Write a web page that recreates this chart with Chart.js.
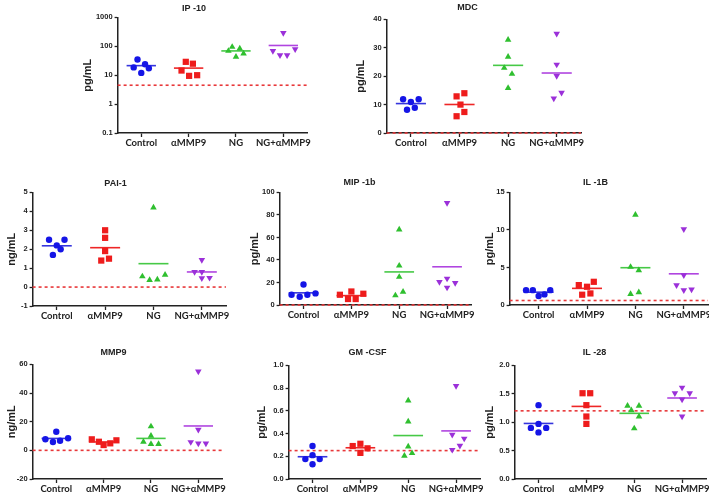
<!DOCTYPE html>
<html lang="en">
<head>
<meta charset="UTF-8" />
<title>Cytokine panels</title>
<script src="https://cdn.jsdelivr.net/npm/chart.js"></script>
<style>
  html, body { margin: 0; padding: 0; background: #fff; overflow: hidden; }
  body { width: 709px; height: 493px; position: relative; }
  .panel { position: absolute; }
</style>
</head>
<body>
<script>
const groups = ["Control", "αMMP9", "NG", "NG+αMMP9"];

// values per group (5 samples each)
const ip10 = [[35, 18.6, 24, 12, 17.5], [29, 25, 14.5, 9.5, 10], [69, 95, 83, 43, 56], [288, 69, 49, 49, 79]];
const mdc = [[11.9, 10.9, 11.9, 8.2, 8.9], [12.9, 14, 10, 7.4, 5.9], [32.8, 26.8, 22.9, 20.8, 15.8], [35, 24.1, 20.1, 14.2, 12.2]];
const pai1 = [[2.5, 2.5, 2.2, 2.0, 1.7], [3.0, 2.6, 1.9, 1.4, 1.5], [4.2, 0.56, 0.37, 0.4, 0.65], [1.43, 0.8, 0.8, 0.47, 0.49]];
const mip1b = [[18.2, 9.1, 7.3, 9.1, 10.3], [12, 9.1, 10, 5.3, 5.3], [66.9, 34.9, 24.9, 11.7, 8.5], [90.6, 23.5, 20.5, 19.6, 15.5]];
const il1b = [[1.98, 1.98, 1.19, 1.41, 1.98], [2.65, 2.43, 3.09, 1.37, 1.54], [12.0, 5.07, 4.63, 1.46, 1.68], [10.1, 3.97, 2.65, 1.98, 2.07]];
const mmp9 = [[13, 7.7, 5.8, 6.7, 8.4], [7.7, 6.0, 3.7, 4.9, 7.0], [16.7, 10.2, 6.0, 4.4, 4.4], [55.1, 14.4, 5.8, 4.9, 4.9]];
const gmcsf = [[0.29, 0.175, 0.21, 0.175, 0.13], [0.31, 0.29, 0.27, 0.23], [0.69, 0.505, 0.286, 0.204, 0.227], [0.82, 0.39, 0.356, 0.294, 0.257]];
const il28 = [[1.30, 0.97, 0.90, 0.90, 0.82], [1.51, 1.51, 1.30, 1.10, 0.97], [1.29, 1.29, 1.21, 1.10, 0.89], [1.61, 1.51, 1.51, 1.40, 1.10]];

// horizontal spread of the dots inside each group (category units)
const ip10Jitter = [[-0.08, -0.16, 0.08, 0, 0.16], [-0.06, 0.09, -0.15, 0.01, 0.18], [-0.16, -0.08, 0.08, 0, 0.16], [0, -0.22, -0.07, 0.08, 0.25]];
const mdcJitter = [[-0.16, 0, 0.16, -0.08, 0.08], [-0.06, 0.1, 0.02, 0.1, -0.06], [0, 0, -0.08, 0.08, 0], [0, 0, 0, 0.1, -0.06]];
const pai1Jitter = [[-0.16, 0.16, 0, 0.08, -0.08], [0, 0, 0, -0.08, 0.08], [0, -0.23, -0.08, 0.08, 0.24], [0, -0.15, 0, 0, 0.16]];
const mip1bJitter = [[0, -0.25, -0.08, 0.08, 0.25], [0, -0.24, 0.25, -0.07, 0.09], [0, 0, 0, 0.08, -0.08], [0, 0, -0.16, 0.17, 0]];
const il1bJitter = [[-0.26, -0.12, 0, 0.12, 0.24], [-0.17, 0, 0.14, -0.1, 0.07], [0, -0.1, 0.07, -0.1, 0.07], [0, 0, -0.15, 0, 0.16]];
const mmp9Jitter = [[0, -0.23, -0.07, 0.08, 0.25], [-0.25, -0.1, 0, 0.14, 0.27], [0, 0, -0.16, 0, 0.16], [0, 0, -0.16, 0, 0.16]];
const gmcsfJitter = [[0, -0.15, 0, 0.15, 0], [0, -0.16, 0.15, 0], [0, 0, 0, -0.08, 0.08], [0, -0.08, 0.17, 0.08, -0.08]];
const il28Jitter = [[0, 0, -0.16, 0.16, 0], [-0.08, 0.08, 0, 0, 0], [-0.14, 0.1, -0.06, 0.1, 0], [0, -0.15, 0.16, 0, 0]];

// y tick labels
const ip10Ticks = [0.1, 1, 10, 100, 1000];
const mdcTicks = [0, 10, 20, 30, 40];
const pai1Ticks = [-1, 0, 1, 2, 3, 4, 5];
const mip1bTicks = [0, 20, 40, 60, 80, 100];
const il1bTicks = [0, 5, 10, 15];
const mmp9Ticks = [-20, 0, 20, 40, 60];
const gmcsfTicks = [0, 0.2, 0.4, 0.6, 0.8, 1.0];
const il28Ticks = [0, 0.5, 1.0, 1.5, 2.0];

// detection limit (red dotted line)
const lods = { ip10: 4.5, mdc: 0, pai1: 0, mip1b: 0, il1b: 0.6, mmp9: 0, gmcsf: 0.25, il28: 1.2 };

const dotColors = ["#1515e6", "#ee1c1c", "#2fbf2f", "#9b30d9"];
const meanColors = ["#3535dd", "#ee2626", "#46c946", "#b045e0"];
const shapes = [
  { style: "circle", r: 3.2, rot: 0 },
  { style: "rect", r: 4.4, rot: 0 },
  { style: "triangle", r: 3.8, rot: 0 },
  { style: "triangle", r: 3.8, rot: 180 }
];

const panels = [
  { title: "IP -10", unit: "pg/mL", vals: ip10, jit: ip10Jitter, ticks: ip10Ticks, lod: lods.ip10, log: true, box: { l: 118, r: 307, t: 17, b: 133 }, ylabX: 88, titleY: 8 },
  { title: "MDC", unit: "pg/mL", vals: mdc, jit: mdcJitter, ticks: mdcTicks, lod: lods.mdc, box: { l: 387, r: 581, t: 19, b: 133 }, ylabX: 361, titleY: 7 },
  { title: "PAI-1", unit: "ng/mL", vals: pai1, jit: pai1Jitter, ticks: pai1Ticks, lod: lods.pai1, box: { l: 33, r: 226, t: 192, b: 306 }, ylabX: 12, titleY: 183 },
  { title: "MIP -1b", unit: "pg/mL", vals: mip1b, jit: mip1bJitter, ticks: mip1bTicks, lod: lods.mip1b, box: { l: 280, r: 471, t: 192, b: 305 }, ylabX: 255, titleY: 182 },
  { title: "IL -1B", unit: "pg/mL", vals: il1b, jit: il1bJitter, ticks: il1bTicks, lod: lods.il1b, box: { l: 510, r: 708, t: 192, b: 305 }, ylabX: 490, titleY: 182, xMin: 0.4 },
  { title: "MMP9", unit: "ng/mL", vals: mmp9, jit: mmp9Jitter, ticks: mmp9Ticks, lod: lods.mmp9, box: { l: 33, r: 222, t: 364, b: 479 }, ylabX: 12, titleY: 352 },
  { title: "GM -CSF", unit: "pg/mL", vals: gmcsf, jit: gmcsfJitter, ticks: gmcsfTicks, lod: lods.gmcsf, dec: 1, box: { l: 289, r: 480, t: 365, b: 479 }, ylabX: 262, titleY: 352 },
  { title: "IL -28", unit: "pg/mL", vals: il28, jit: il28Jitter, ticks: il28Ticks, lod: lods.il28, dec: 1, box: { l: 515, r: 706, t: 365, b: 479 }, ylabX: 490, titleY: 352 }
];

const ink = "#222";
const mean = arr => arr.reduce((a, b) => a + b, 0) / arr.length;

function makePanel(p) {
  const xMin = p.xMin || 0.5, xMax = 4.5;
  const left = p.ylabX - 6.6;
  const top = p.titleY - 5.4;
  const yw = p.box.l - left;
  const xh = 22, padR = 14;
  const w = Math.round(p.box.r - left + padR);
  const h = Math.round(p.box.b + xh - top);

  const div = document.createElement("div");
  div.className = "panel";
  div.style.left = left + "px";
  div.style.top = top + "px";
  const cv = document.createElement("canvas");
  cv.width = w; cv.height = h;
  cv.style.width = w + "px"; cv.style.height = h + "px";
  div.appendChild(cv);
  document.body.appendChild(div);

  const datasets = [];
  p.vals.forEach((vals, i) => {
    datasets.push({
      data: vals.map((v, k) => ({ x: i + 1 + p.jit[i][k], y: v })),
      pointStyle: shapes[i].style,
      rotation: shapes[i].rot,
      pointRadius: shapes[i].r,
      backgroundColor: dotColors[i],
      borderColor: dotColors[i],
      borderWidth: 0,
      showLine: false,
      clip: false
    });
  });
  p.vals.forEach((vals, i) => {
    const m = mean(vals);
    datasets.push({
      data: [{ x: i + 1 - 0.31, y: m }, { x: i + 1 + 0.31, y: m }],
      showLine: true, pointRadius: 0,
      borderColor: meanColors[i], borderWidth: 1.6, clip: false
    });
  });
  datasets.push({
    data: [{ x: xMin, y: p.lod }, { x: xMax, y: p.lod }],
    showLine: true, pointRadius: 0,
    borderColor: "#e8383a", borderWidth: 1.6, borderDash: [3, 3], clip: false
  });

  new Chart(cv.getContext("2d"), {
    type: "scatter",
    data: { datasets },
    options: {
      responsive: false,
      animation: false,
      events: [],
      layout: { padding: { left: 0, right: padR, top: 0, bottom: 0 } },
      plugins: {
        legend: { display: false },
        tooltip: { enabled: false },
        title: {
          display: true, text: p.title, color: ink,
          font: { family: "Liberation Sans", size: 9, weight: "bold", lineHeight: 1.2 },
          padding: { top: 0, bottom: p.box.t - top - 10.8 }
        }
      },
      scales: {
        x: {
          type: "linear", min: xMin, max: xMax,
          afterBuildTicks: s => { s.ticks = groups.map((g, i) => ({ value: i + 1 })); },
          afterFit: s => { s.height = xh; },
          ticks: {
            autoSkip: false, maxRotation: 0, padding: 0, color: ink,
            font: { family: "Lato", size: 9.5, weight: "bold" },
            callback: v => groups[Math.round(v) - 1]
          },
          grid: { drawOnChartArea: false, color: ink, tickLength: 4, tickWidth: 1.3 },
          border: { color: ink, width: 1.5 }
        },
        y: {
          type: p.log ? "logarithmic" : "linear",
          min: p.ticks[0], max: p.ticks[p.ticks.length - 1],
          afterBuildTicks: s => { s.ticks = p.ticks.map(v => ({ value: v })); },
          afterFit: s => { s.width = yw; },
          ticks: {
            padding: 2, color: ink,
            font: { family: "Liberation Sans", size: 7.5, weight: "bold" },
            callback: v => p.dec ? Number(v).toFixed(p.dec) : String(v)
          },
          title: {
            display: true, text: p.unit, color: ink, padding: 0,
            font: { family: "Liberation Sans", size: 11, weight: "bold", lineHeight: 1.2 }
          },
          grid: { drawOnChartArea: false, color: ink, tickLength: 3, tickWidth: 1.3 },
          border: { color: ink, width: 1.5 }
        }
      }
    }
  });
}

panels.forEach(makePanel);
</script>
</body>
</html>
